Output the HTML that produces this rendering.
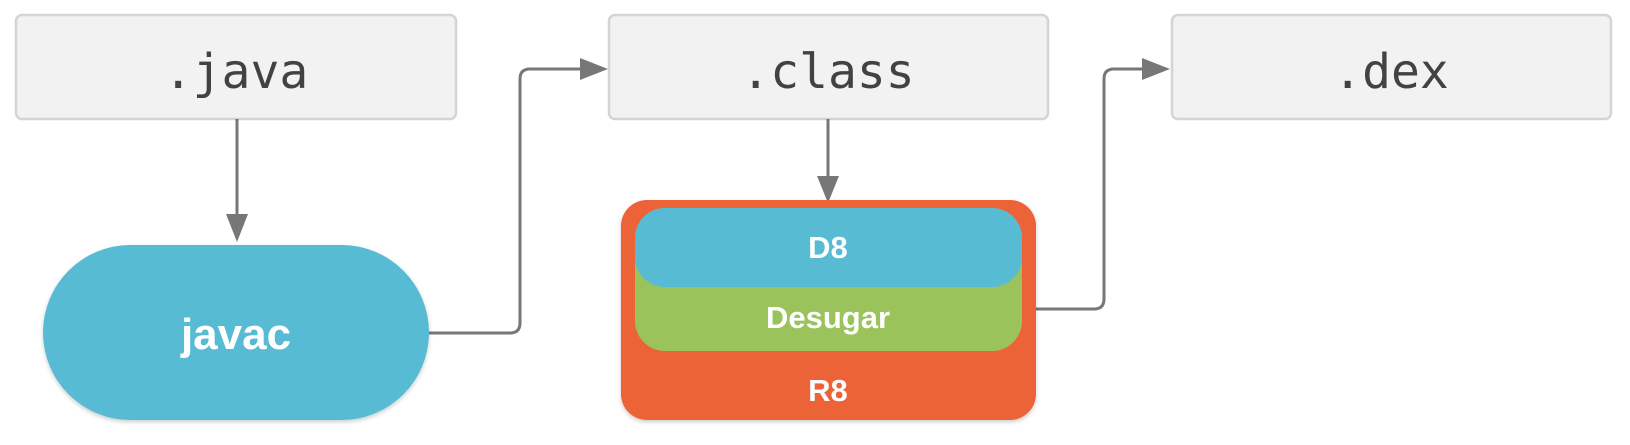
<!DOCTYPE html>
<html><head><meta charset="utf-8"><style>
body{margin:0;background:#fff;width:1630px;height:440px;overflow:hidden}
</style></head><body>
<svg width="1630" height="440" xmlns="http://www.w3.org/2000/svg">
<defs>
<filter id="sh" x="-10%" y="-10%" width="120%" height="130%"><feDropShadow dx="0" dy="2" stdDeviation="2" flood-opacity="0.2"/></filter>
</defs>
<g fill="#f2f2f2" stroke="#d4d4d4" stroke-width="2.5">
<rect x="16" y="15" width="440" height="104" rx="6"/>
<rect x="609" y="15" width="439" height="104" rx="6"/>
<rect x="1172" y="15" width="439" height="104" rx="6"/>
</g>
<g font-family="DejaVu Sans Mono, Liberation Mono, monospace" font-size="48" fill="#424242" text-anchor="middle">
<text x="236" y="88">.java</text>
<text x="828" y="88">.class</text>
<text x="1391" y="88">.dex</text>
</g>
<g stroke="#777" stroke-width="3" fill="none">
<line x1="237" y1="119" x2="237" y2="218"/>
<path d="M429 333 H510 Q520 333 520 323 V79 Q520 69 530 69 H585"/>
<line x1="828" y1="119" x2="828" y2="180"/>
<path d="M1036 309 H1094 Q1104 309 1104 299 V79 Q1104 69 1114 69 H1148"/>
</g>
<g fill="#777">
<polygon points="226,214 248,214 237,242"/>
<polygon points="580,58 580,80 608,69"/>
<polygon points="817,176 839,176 828,203"/>
<polygon points="1142,58 1142,80 1170,69"/>
</g>
<rect x="43" y="245" width="386" height="175" rx="87.5" fill="#56bbd3" filter="url(#sh)"/>
<text x="236" y="349" font-family="Liberation Sans, sans-serif" font-weight="bold" font-size="44" fill="#fff" text-anchor="middle">javac</text>
<rect x="621" y="200" width="415" height="220" rx="26" fill="#ec6337" filter="url(#sh)"/>
<rect x="635" y="208" width="387" height="143" rx="30" fill="#9bc35c"/>
<rect x="635" y="208" width="387" height="79" rx="30" fill="#56bbd3"/>
<g font-family="Liberation Sans, sans-serif" font-weight="bold" font-size="31" fill="#fff" text-anchor="middle">
<text x="828" y="258">D8</text>
<text x="828" y="328">Desugar</text>
<text x="828" y="401">R8</text>
</g>
</svg>
</body></html>
